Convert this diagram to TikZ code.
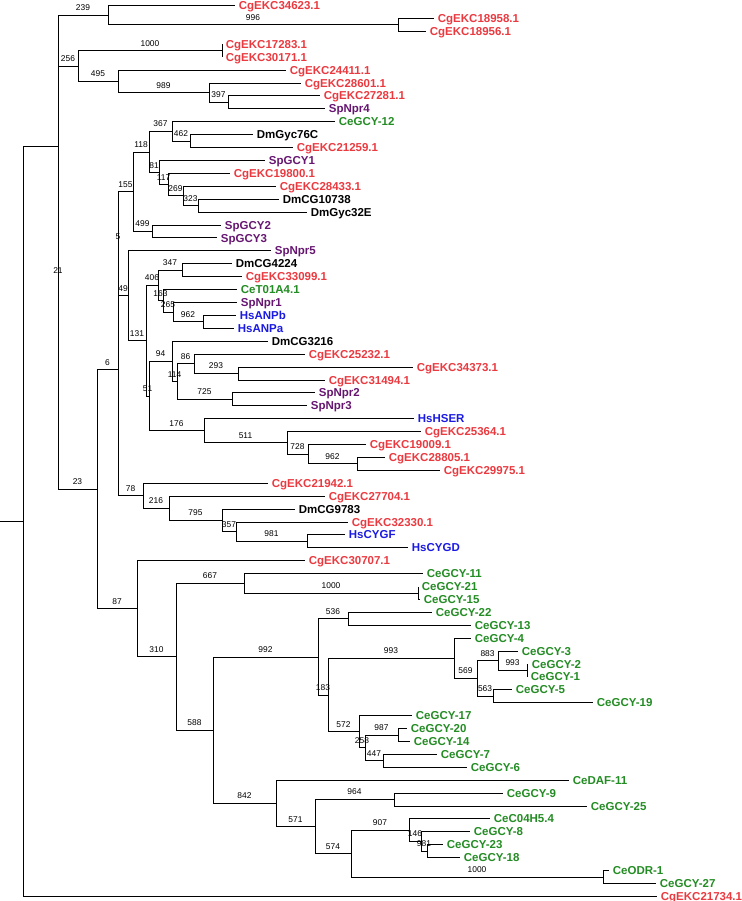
\documentclass[tikz,border=0pt]{standalone}
\usepackage{fontspec}
\setmainfont{Liberation Sans}
\definecolor{cgred}{RGB}{234,58,64}
\definecolor{sppurple}{RGB}{102,22,112}
\definecolor{cegreen}{RGB}{36,140,36}
\definecolor{hsblue}{RGB}{26,26,226}

\begin{document}
\begin{tikzpicture}
	[x=1pt, y=-1pt, line width=0.8pt,
	leaf/.style={anchor=west, inner xsep=3.5pt, inner ysep=1pt, text height=8.2pt, text depth=0pt, font=\fontsize{11.5}{12}\selectfont\bfseries},
	cg/.style={leaf, text=cgred},
	sp/.style={leaf, text=sppurple},
	ce/.style={leaf, text=cegreen},
	dm/.style={leaf, text=black},
	hs/.style={leaf, text=hsblue},
	bs/.style={pos=0.75, above=3.5pt, inner sep=0.5pt, font=\fontsize{8.4}{9}\selectfont, text=black}]
	\useasboundingbox (0,-1.5) rectangle (741,899.5);
	% leaves
	\node[cg] (EKC34623) at (235,4.0) {CgEKC34623.1};
	\node[cg] (EKC18958) at (434,16.9) {CgEKC18958.1};
	\node[cg] (EKC18956) at (426,29.8) {CgEKC18956.1};
	\node[cg] (EKC17283) at (222,42.7) {CgEKC17283.1};
	\node[cg] (EKC30171) at (222,55.6) {CgEKC30171.1};
	\node[cg] (EKC24411) at (286,68.6) {CgEKC24411.1};
	\node[cg] (EKC28601) at (301,81.5) {CgEKC28601.1};
	\node[cg] (EKC27281) at (320,94.4) {CgEKC27281.1};
	\node[sp] (SpNpr4) at (325,107.3) {SpNpr4};
	\node[ce] (CeGCY-12) at (335,120.2) {CeGCY-12};
	\node[dm] (DmGyc76C) at (253,133.1) {DmGyc76C};
	\node[cg] (EKC21259) at (293,146.0) {CgEKC21259.1};
	\node[sp] (SpGCY1) at (265,158.9) {SpGCY1};
	\node[cg] (EKC19800) at (230,171.8) {CgEKC19800.1};
	\node[cg] (EKC28433) at (276,184.7) {CgEKC28433.1};
	\node[dm] (DmCG10738) at (279,197.7) {DmCG10738};
	\node[dm] (DmGyc32E) at (307,210.6) {DmGyc32E};
	\node[sp] (SpGCY2) at (221,223.5) {SpGCY2};
	\node[sp] (SpGCY3) at (217,236.4) {SpGCY3};
	\node[sp] (SpNpr5) at (271,249.3) {SpNpr5};
	\node[dm] (DmCG4224) at (232,262.2) {DmCG4224};
	\node[cg] (EKC33099) at (242,275.1) {CgEKC33099.1};
	\node[ce] (CeT01A4) at (237,288.0) {CeT01A4.1};
	\node[sp] (SpNpr1) at (237,300.9) {SpNpr1};
	\node[hs] (HsANPb) at (236,313.8) {HsANPb};
	\node[hs] (HsANPa) at (234,326.8) {HsANPa};
	\node[dm] (DmCG3216) at (268,339.7) {DmCG3216};
	\node[cg] (EKC25232) at (305,352.6) {CgEKC25232.1};
	\node[cg] (EKC34373) at (413,365.5) {CgEKC34373.1};
	\node[cg] (EKC31494) at (325,378.4) {CgEKC31494.1};
	\node[sp] (SpNpr2) at (315,391.3) {SpNpr2};
	\node[sp] (SpNpr3) at (307,404.2) {SpNpr3};
	\node[hs] (HsHSER) at (414,417.1) {HsHSER};
	\node[cg] (EKC25364) at (421,430.0) {CgEKC25364.1};
	\node[cg] (EKC19009) at (366,442.9) {CgEKC19009.1};
	\node[cg] (EKC28805) at (385,455.9) {CgEKC28805.1};
	\node[cg] (EKC29975) at (440,468.8) {CgEKC29975.1};
	\node[cg] (EKC21942) at (268,481.7) {CgEKC21942.1};
	\node[cg] (EKC27704) at (325,494.6) {CgEKC27704.1};
	\node[dm] (DmCG9783) at (295,507.5) {DmCG9783};
	\node[cg] (EKC32330) at (348,520.4) {CgEKC32330.1};
	\node[hs] (HsCYGF) at (345,533.3) {HsCYGF};
	\node[hs] (HsCYGD) at (408,546.2) {HsCYGD};
	\node[cg] (EKC30707) at (305,559.1) {CgEKC30707.1};
	\node[ce] (CeGCY-11) at (423,572.0) {CeGCY-11};
	\node[ce] (CeGCY-21) at (418,585.0) {CeGCY-21};
	\node[ce] (CeGCY-15) at (420,597.9) {CeGCY-15};
	\node[ce] (CeGCY-22) at (432,610.8) {CeGCY-22};
	\node[ce] (CeGCY-13) at (471,623.7) {CeGCY-13};
	\node[ce] (CeGCY-4) at (471,636.6) {CeGCY-4};
	\node[ce] (CeGCY-3) at (518,649.5) {CeGCY-3};
	\node[ce] (CeGCY-2) at (528,662.4) {CeGCY-2};
	\node[ce] (CeGCY-1) at (527,675.3) {CeGCY-1};
	\node[ce] (CeGCY-5) at (512,688.2) {CeGCY-5};
	\node[ce] (CeGCY-19) at (593,701.1) {CeGCY-19};
	\node[ce] (CeGCY-17) at (412,714.1) {CeGCY-17};
	\node[ce] (CeGCY-20) at (407,727.0) {CeGCY-20};
	\node[ce] (CeGCY-14) at (410,739.9) {CeGCY-14};
	\node[ce] (CeGCY-7) at (437,752.8) {CeGCY-7};
	\node[ce] (CeGCY-6) at (467,765.7) {CeGCY-6};
	\node[ce] (CeDAF-11) at (569,778.6) {CeDAF-11};
	\node[ce] (CeGCY-9) at (503,791.5) {CeGCY-9};
	\node[ce] (CeGCY-25) at (587,804.4) {CeGCY-25};
	\node[ce] (CeC04H5) at (490,817.3) {CeC04H5.4};
	\node[ce] (CeGCY-8) at (470,830.2) {CeGCY-8};
	\node[ce] (CeGCY-23) at (443,843.2) {CeGCY-23};
	\node[ce] (CeGCY-18) at (460,856.1) {CeGCY-18};
	\node[ce] (CeODR-1) at (609,869.0) {CeODR-1};
	\node[ce] (CeGCY-27) at (656,881.9) {CeGCY-27};
	\node[cg] (EKC21734) at (657,894.8) {CgEKC21734.1};
	% inner nodes
	\coordinate (stem) at (0,519.85);
	\coordinate (r) at (23,519.85);
	\coordinate (n21top) at (58,144.9);
	\coordinate (n239) at (108,13.7);
	\coordinate (n996) at (398,23.35);
	\coordinate (n21a) at (58,276.1);
	\coordinate (n256) at (78,64.55);
	\coordinate (n1000a) at (222,49.15);
	\coordinate (n495) at (118,79.9);
	\coordinate (n989) at (209,91.2);
	\coordinate (n397) at (228,100.85);
	\coordinate (n23) at (97,487.65);
	\coordinate (n6) at (118,368.2);
	\coordinate (n5) at (118,242.2);
	\coordinate (n155) at (133,190.2);
	\coordinate (n118) at (149,150.45);
	\coordinate (n367) at (172,129.9);
	\coordinate (n462) at (190,139.55);
	\coordinate (n81) at (159,171.0);
	\coordinate (n117) at (168,183.1);
	\coordinate (n269) at (183,194.4);
	\coordinate (n323) at (198,204.15);
	\coordinate (n499) at (152,229.95);
	\coordinate (n49) at (128,294.25);
	\coordinate (n131) at (146,339.2);
	\coordinate (n406) at (158,283.95);
	\coordinate (n347) at (182,268.65);
	\coordinate (n163) at (163,299.3);
	\coordinate (n265) at (173,310.6);
	\coordinate (n962a) at (203,320.3);
	\coordinate (n51) at (149,394.5);
	\coordinate (n94) at (172,359.85);
	\coordinate (n114) at (177,380.0);
	\coordinate (n86) at (194,362.3);
	\coordinate (n293) at (238,371.95);
	\coordinate (n725) at (232,397.75);
	\coordinate (n176) at (204,429.2);
	\coordinate (n511) at (287,441.3);
	\coordinate (n728) at (308,452.6);
	\coordinate (n962b) at (357,462.35);
	\coordinate (n78) at (143,494.2);
	\coordinate (n216) at (169,506.7);
	\coordinate (n795) at (222,518.8);
	\coordinate (n357) at (236,530.1);
	\coordinate (n981a) at (307,539.75);
	\coordinate (n87) at (137,607.1);
	\coordinate (n310) at (176,655.15);
	\coordinate (n667) at (244,581.7);
	\coordinate (n1000b) at (418,591.45);
	\coordinate (n588) at (213,728.6);
	\coordinate (n992) at (318,655.4);
	\coordinate (n536) at (348,617.25);
	\coordinate (n183) at (328,693.5);
	\coordinate (n993a) at (454,656.75);
	\coordinate (n569) at (477,676.9);
	\coordinate (n883) at (498,659.2);
	\coordinate (n993b) at (527,668.85);
	\coordinate (n563) at (493,694.65);
	\coordinate (n572) at (359,730.2);
	\coordinate (n258) at (365,746.35);
	\coordinate (n987) at (398,733.45);
	\coordinate (n447) at (383,759.25);
	\coordinate (n842) at (276,801.8);
	\coordinate (n571) at (315,825.0);
	\coordinate (n964) at (394,797.95);
	\coordinate (n574) at (351,852.0);
	\coordinate (n907) at (409,828.6);
	\coordinate (n146) at (421,839.9);
	\coordinate (n981b) at (427,849.65);
	\coordinate (n1000c) at (603,875.45);
	% branches
	\draw (stem) -- (r);
	\draw (r) |- (n21top) (r) |- (EKC21734.west);
	\draw (n21top) |- node[bs]{239} (n239) (n21top) |- node[bs]{21} (n21a);
	\draw (n239) |- (EKC34623.west) (n239) |- node[bs]{996} (n996);
	\draw (n996) |- (EKC18958.west) (n996) |- (EKC18956.west);
	\draw (n21a) |- node[bs]{256} (n256) (n21a) |- node[bs]{23} (n23);
	\draw (n256) |- node[bs]{1000} (n1000a) (n256) |- node[bs]{495} (n495);
	\draw (n1000a) |- (EKC17283.west) (n1000a) |- (EKC30171.west);
	\draw (n495) |- (EKC24411.west) (n495) |- node[bs]{989} (n989);
	\draw (n989) |- (EKC28601.west) (n989) |- node[bs]{397} (n397);
	\draw (n397) |- (EKC27281.west) (n397) |- (SpNpr4.west);
	\draw (n23) |- node[bs]{6} (n6) (n23) |- node[bs]{87} (n87);
	\draw (n6) |- node[bs]{5} (n5) (n6) |- node[bs]{78} (n78);
	\draw (n5) |- node[bs]{155} (n155) (n5) |- node[bs]{49} (n49);
	\draw (n155) |- node[bs]{118} (n118) (n155) |- node[bs]{499} (n499);
	\draw (n118) |- node[bs]{367} (n367) (n118) |- node[bs]{81} (n81);
	\draw (n367) |- (CeGCY-12.west) (n367) |- node[bs]{462} (n462);
	\draw (n462) |- (DmGyc76C.west) (n462) |- (EKC21259.west);
	\draw (n81) |- (SpGCY1.west) (n81) |- node[bs]{117} (n117);
	\draw (n117) |- (EKC19800.west) (n117) |- node[bs]{269} (n269);
	\draw (n269) |- (EKC28433.west) (n269) |- node[bs]{323} (n323);
	\draw (n323) |- (DmCG10738.west) (n323) |- (DmGyc32E.west);
	\draw (n499) |- (SpGCY2.west) (n499) |- (SpGCY3.west);
	\draw (n49) |- (SpNpr5.west) (n49) |- node[bs]{131} (n131);
	\draw (n131) |- node[bs]{406} (n406) (n131) |- node[bs]{51} (n51);
	\draw (n406) |- node[bs]{347} (n347) (n406) |- node[bs]{163} (n163);
	\draw (n347) |- (DmCG4224.west) (n347) |- (EKC33099.west);
	\draw (n163) |- (CeT01A4.west) (n163) |- node[bs]{265} (n265);
	\draw (n265) |- (SpNpr1.west) (n265) |- node[bs]{962} (n962a);
	\draw (n962a) |- (HsANPb.west) (n962a) |- (HsANPa.west);
	\draw (n51) |- node[bs]{94} (n94) (n51) |- node[bs]{176} (n176);
	\draw (n94) |- (DmCG3216.west) (n94) |- node[bs]{114} (n114);
	\draw (n114) |- node[bs]{86} (n86) (n114) |- node[bs]{725} (n725);
	\draw (n86) |- (EKC25232.west) (n86) |- node[bs]{293} (n293);
	\draw (n293) |- (EKC34373.west) (n293) |- (EKC31494.west);
	\draw (n725) |- (SpNpr2.west) (n725) |- (SpNpr3.west);
	\draw (n176) |- (HsHSER.west) (n176) |- node[bs]{511} (n511);
	\draw (n511) |- (EKC25364.west) (n511) |- node[bs]{728} (n728);
	\draw (n728) |- (EKC19009.west) (n728) |- node[bs]{962} (n962b);
	\draw (n962b) |- (EKC28805.west) (n962b) |- (EKC29975.west);
	\draw (n78) |- (EKC21942.west) (n78) |- node[bs]{216} (n216);
	\draw (n216) |- (EKC27704.west) (n216) |- node[bs]{795} (n795);
	\draw (n795) |- (DmCG9783.west) (n795) |- node[bs]{357} (n357);
	\draw (n357) |- (EKC32330.west) (n357) |- node[bs]{981} (n981a);
	\draw (n981a) |- (HsCYGF.west) (n981a) |- (HsCYGD.west);
	\draw (n87) |- (EKC30707.west) (n87) |- node[bs]{310} (n310);
	\draw (n310) |- node[bs]{667} (n667) (n310) |- node[bs]{588} (n588);
	\draw (n667) |- (CeGCY-11.west) (n667) |- node[bs]{1000} (n1000b);
	\draw (n1000b) |- (CeGCY-21.west) (n1000b) |- (CeGCY-15.west);
	\draw (n588) |- node[bs]{992} (n992) (n588) |- node[bs]{842} (n842);
	\draw (n992) |- node[bs]{536} (n536) (n992) |- node[bs]{183} (n183);
	\draw (n536) |- (CeGCY-22.west) (n536) |- (CeGCY-13.west);
	\draw (n183) |- node[bs]{993} (n993a) (n183) |- node[bs]{572} (n572);
	\draw (n993a) |- (CeGCY-4.west) (n993a) |- node[bs]{569} (n569);
	\draw (n569) |- node[bs]{883} (n883) (n569) |- node[bs]{563} (n563);
	\draw (n883) |- (CeGCY-3.west) (n883) |- node[bs]{993} (n993b);
	\draw (n993b) |- (CeGCY-2.west) (n993b) |- (CeGCY-1.west);
	\draw (n563) |- (CeGCY-5.west) (n563) |- (CeGCY-19.west);
	\draw (n572) |- (CeGCY-17.west) (n572) |- node[bs]{258} (n258);
	\draw (n258) |- node[bs]{987} (n987) (n258) |- node[bs]{447} (n447);
	\draw (n987) |- (CeGCY-20.west) (n987) |- (CeGCY-14.west);
	\draw (n447) |- (CeGCY-7.west) (n447) |- (CeGCY-6.west);
	\draw (n842) |- (CeDAF-11.west) (n842) |- node[bs]{571} (n571);
	\draw (n571) |- node[bs]{964} (n964) (n571) |- node[bs]{574} (n574);
	\draw (n964) |- (CeGCY-9.west) (n964) |- (CeGCY-25.west);
	\draw (n574) |- node[bs]{907} (n907) (n574) |- node[bs]{1000} (n1000c);
	\draw (n907) |- (CeC04H5.west) (n907) |- node[bs]{146} (n146);
	\draw (n146) |- (CeGCY-8.west) (n146) |- node[bs]{981} (n981b);
	\draw (n981b) |- (CeGCY-23.west) (n981b) |- (CeGCY-18.west);
	\draw (n1000c) |- (CeODR-1.west) (n1000c) |- (CeGCY-27.west);
\end{tikzpicture}
\end{document}
